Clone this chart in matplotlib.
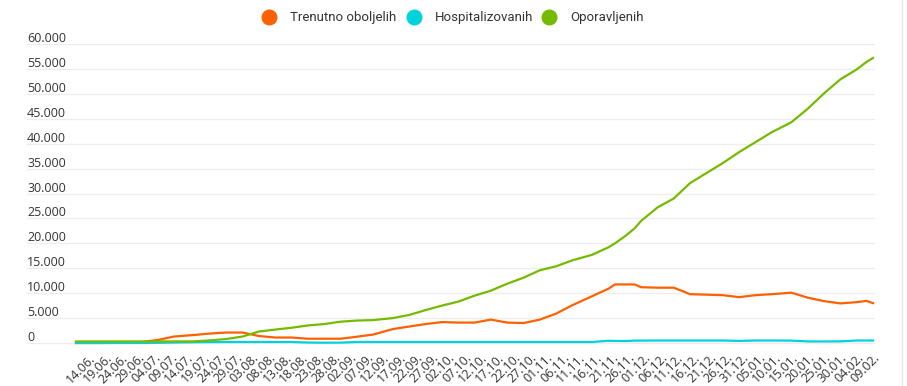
import matplotlib
matplotlib.use("Agg")
import matplotlib.pyplot as plt
import matplotlib.transforms as mtransforms
from matplotlib.lines import Line2D
import pandas as pd

# pocetak serije i dani (od 10.06.2020) za ocitane tacke
start = pd.Timestamp("2020-06-10")
days = [0, 5, 10, 15, 20, 25, 30, 36, 41, 46, 51, 56, 61, 66, 71, 76, 81,
        86, 91, 97, 102, 107, 112, 117, 122, 127, 132, 137, 142, 147, 152,
        158, 163, 165, 168, 171, 173, 178, 183, 188, 193, 198, 203, 208,
        213, 219, 224, 229, 234, 239, 242, 244]

trenutno = [0, 5, 15, 50, 200, 600, 1300, 1600, 1900, 2100, 2100, 1400,
            1100, 1100, 860, 860, 860, 1260, 1700, 2800, 3300, 3800, 4200,
            4100, 4100, 4700, 4100, 4000, 4700, 5900, 7600, 9400, 10900,
            11750, 11750, 11750, 11200, 11100, 11100, 9800, 9700, 9600, 9200,
            9600, 9800, 10100, 9100, 8400, 7950, 8200, 8450, 8000]

hospitalizovani = [0, 0, 5, 10, 20, 40, 100, 150, 180, 200, 200, 200, 200,
                   200, 100, 60, 80, 200, 200, 200, 200, 200, 200, 200, 200,
                   200, 200, 200, 200, 200, 200, 200, 450, 420, 380, 480, 480,
                   500, 500, 500, 500, 500, 420, 500, 500, 480, 320, 310, 330,
                   500, 500, 500]

oporavljeni = [315, 315, 315, 315, 315, 315, 320, 330, 530, 800, 1300, 2300,
               2700, 3060, 3530, 3800, 4280, 4500, 4600, 5000, 5630, 6600,
               7500, 8300, 9500, 10500, 11900, 13100, 14600, 15400, 16600,
               17700, 19200, 20000, 21400, 23000, 24500, 27200, 29000, 32100,
               34100, 36100, 38300, 40300, 42300, 44300, 47000, 50100, 52900,
               54900, 56400, 57200]

serije = ["Trenutno oboljelih", "Hospitalizovanih", "Oporavljenih"]
boje = ["#ff6000", "#00d2dc", "#74bb00"]

y_ticks = list(range(0, 60001, 5000))
x_ticks = list(range(4, 245, 5))
x_labels = [(start + pd.Timedelta(days=d)).strftime("%d.%m.") for d in x_ticks]

fig = plt.figure(figsize=(9.07, 3.86), dpi=100)
ax = fig.add_axes([27 / 907, 1 - 346 / 386, 848 / 907, 302 / 386])

for vrijednosti, boja in zip([trenutno, hospitalizovani, oporavljeni], boje):
    ax.plot(days, vrijednosti, color=boja, lw=1.6, solid_joinstyle="round")

ax.set_xlim(-15.0, 244.6)
ax.set_ylim(-600, 60000)

# mreza
for v in y_ticks:
    ax.axhline(v, color="#ededed", lw=0.9, zorder=0)

# y oznake iznad linija mreze
tr = mtransforms.offset_copy(ax.get_yaxis_transform(), fig=fig, x=0, y=2, units="dots")
for v in y_ticks:
    txt = "0" if v == 0 else f"{v:,}".replace(",", ".")
    ax.text(0, v, txt, transform=tr, ha="left", va="baseline",
            fontsize=9, color="#333333", family=["Open Sans", "DejaVu Sans"])

ax.set_yticks([])
ax.set_xticks(x_ticks)
ax.set_xticklabels(x_labels, rotation=45, ha="right", va="top",
                   rotation_mode="anchor", fontsize=9, color="#333333",
                   family=["Open Sans", "DejaVu Sans"])
ax.tick_params(axis="x", length=0, pad=4)
for s in ax.spines.values():
    s.set_visible(False)

# legenda (krug + tekst), rucno postavljena kao u originalu
leg_x = [269, 414, 549]
for x, ime, boja in zip(leg_x, serije, boje):
    fig.add_artist(Line2D([x / 907], [1 - 17 / 386], marker="o", ls="none",
                          markersize=10.5, markerfacecolor=boja,
                          markeredgecolor=boja))
    fig.text((x + 21) / 907, 1 - 17 / 386, ime, ha="left", va="center",
             fontsize=9.5, color="#333333", family=["Roboto", "DejaVu Sans"])

# desna ivica kontejnera
fig.add_artist(Line2D([902 / 907, 902 / 907], [0, 1], color="#e6e6e6", lw=1))

fig.savefig("out.png", dpi=100)
